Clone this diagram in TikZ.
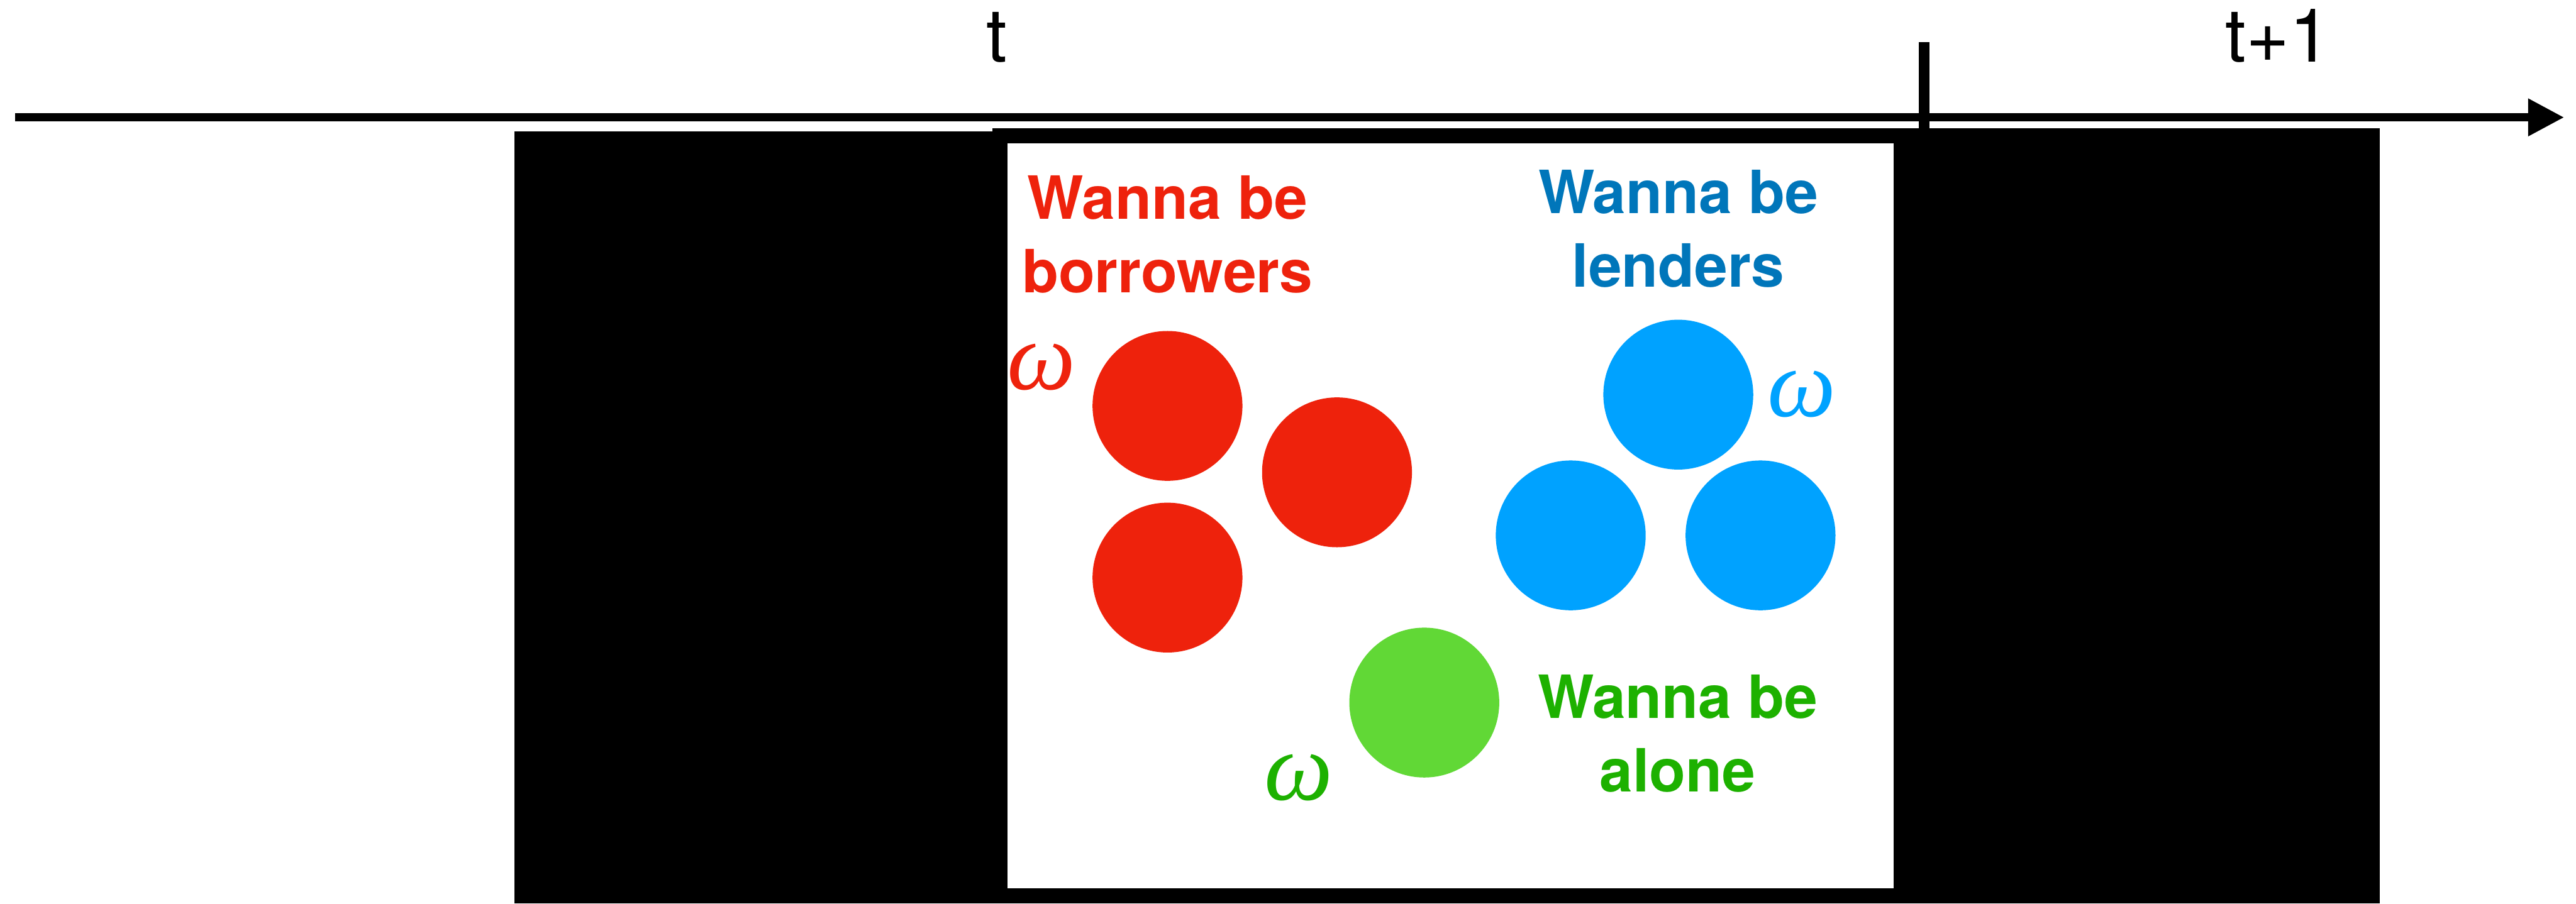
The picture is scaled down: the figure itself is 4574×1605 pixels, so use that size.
\documentclass[tikz,border=0pt]{standalone}
\usepackage{fontspec}
\setmainfont{TeX Gyre Heros}
\newfontfamily\greekfont{Liberation Serif}
\usetikzlibrary{arrows.meta}
\definecolor{borrowRed}{HTML}{EE220C}
\definecolor{lendBlue}{HTML}{0076BA}
\definecolor{lendDot}{HTML}{00A2FF}
\definecolor{aloneDot}{HTML}{61D836}
\definecolor{aloneGreen}{HTML}{1DB100}
\begin{document}
\begin{tikzpicture}[x=0.01cm,y=-0.01cm,
  panel/.style={fill=black},
  axisline/.style={line width=0.15cm,-{Triangle[length=0.64cm,width=0.63cm]}},
  tickline/.style={line width=0.19cm},
  dot/.style={circle,inner sep=0pt,minimum size=2.66cm},
  wanna/.style={font=\bfseries\fontsize{30.1}{37.3}\selectfont,align=center,inner sep=0pt,anchor=base},
  tlabel/.style={font=\fontsize{37.6}{40}\selectfont,inner sep=0pt,anchor=base},
  omg/.style={font=\greekfont\itshape\fontsize{49}{52}\selectfont,inner sep=0pt}
]
\useasboundingbox (0,0) rectangle (4574,1605);

% side panels and framed centre panel
\fill[panel] (913,233) rectangle (1800,1605);
\fill[panel] (3362,228) rectangle (4226,1605);
\fill[panel] (1762,228) rectangle (3389,1605);
\fill[white] (1789,255) rectangle (3362,1578);

% time axis
\coordinate (axisStart) at (27,208.5);
\coordinate (axisEnd) at (4553,208.5);
\draw[axisline] (axisStart) -- (axisEnd);
\coordinate (tickTop) at (3417,75);
\coordinate (tickBottom) at (3417,230);
\draw[tickline] (tickTop) -- (tickBottom);
\node[tlabel] (tNow) at (1770,110) {t};
\node[tlabel] (tNext) at (4045,110) {t+1};

% borrowers (anchor on the baseline of the last line)
\node[wanna,text=borrowRed] (borrowLbl) at (2073,520) {Wanna be\\borrowers};
\node[dot,fill=borrowRed] (b1) at (2073,721) {};
\node[dot,fill=borrowRed] (b2) at (2374,839) {};
\node[dot,fill=borrowRed] (b3) at (2073,1026) {};
\node[omg,text=borrowRed] (wB) at (1849,652) {ω};

% lenders
\node[wanna,text=lendBlue] (lendLbl) at (2980,510) {Wanna be\\lenders};
\node[dot,fill=lendDot] (l1) at (2980,701) {};
\node[dot,fill=lendDot] (l2) at (2789,951) {};
\node[dot,fill=lendDot] (l3) at (3126,951) {};
\node[omg,text=lendDot] (wL) at (3199,700) {ω};

% alone
\node[wanna,text=aloneGreen] (aloneLbl) at (2979,1407) {Wanna be\\alone};
\node[dot,fill=aloneDot] (a1) at (2529,1248) {};
\node[omg,text=aloneGreen] (wA) at (2306,1381) {ω};
\end{tikzpicture}
\end{document}
